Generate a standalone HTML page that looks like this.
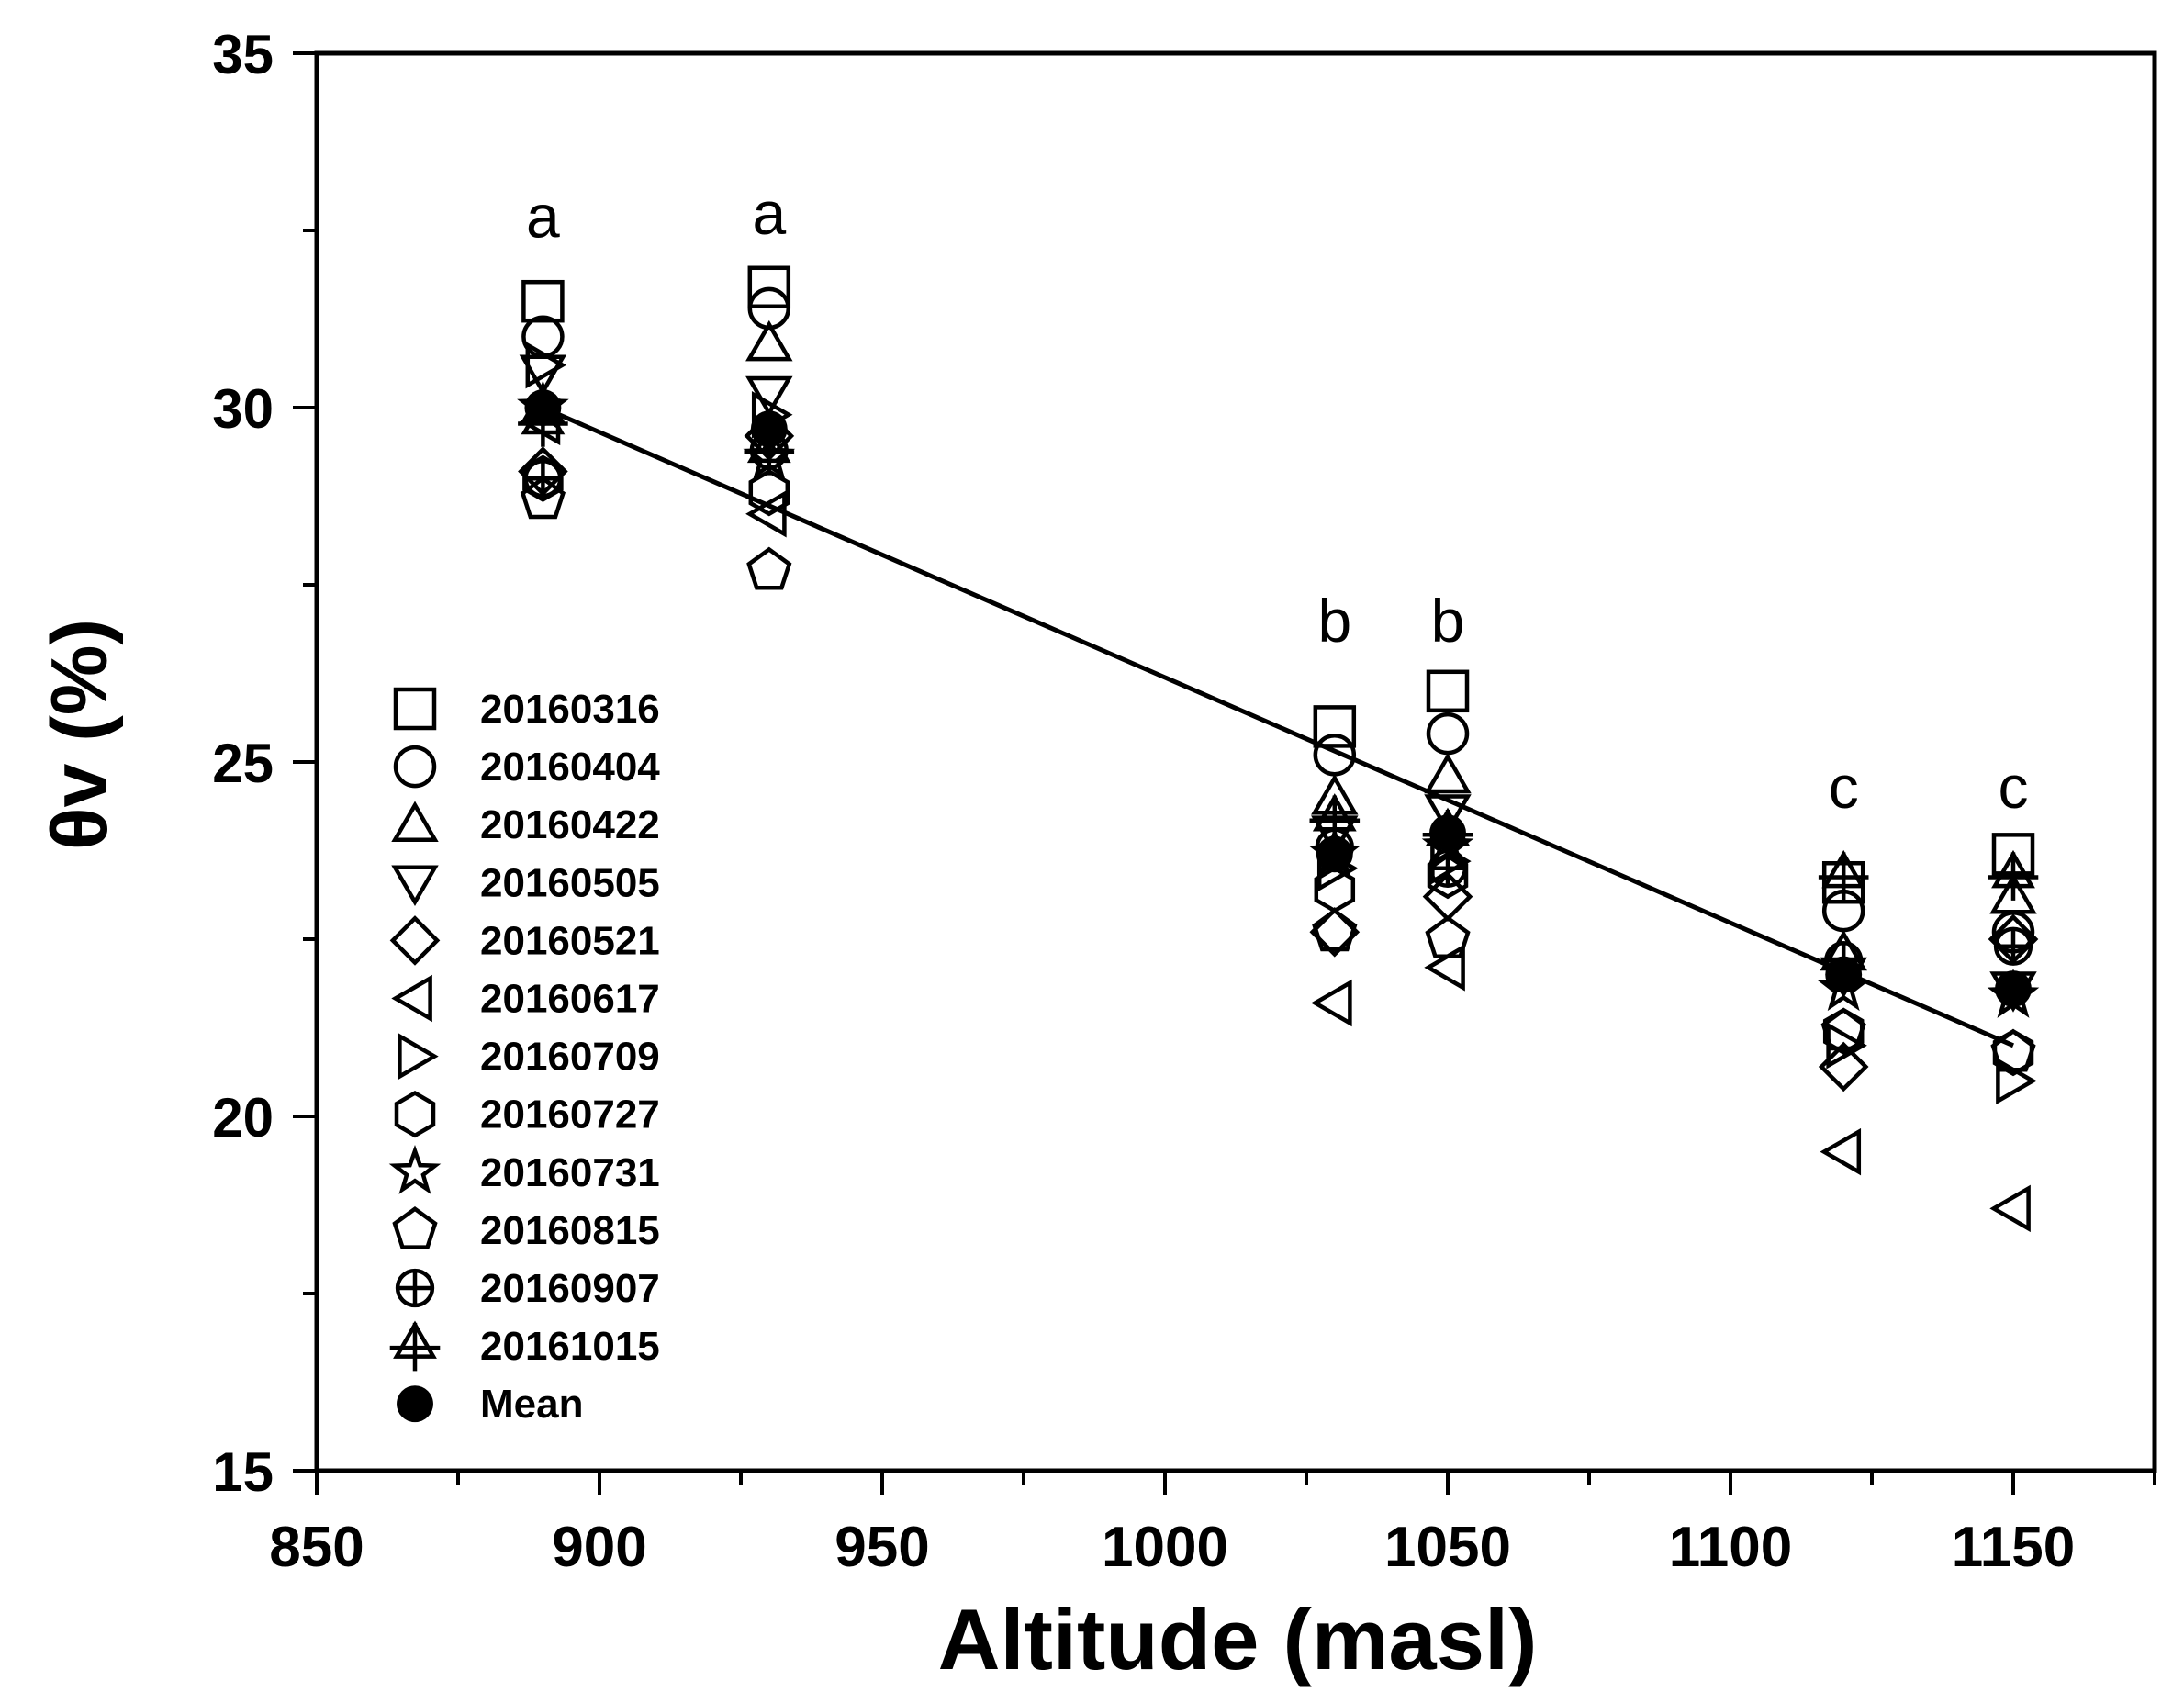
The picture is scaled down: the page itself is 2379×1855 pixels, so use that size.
<!DOCTYPE html>
<html><head><meta charset="utf-8"><style>
html,body{margin:0;padding:0;background:#fff;}
svg{display:block;}
text{font-family:"Liberation Sans",sans-serif;}
</style></head><body>
<svg id="chart" width="2379" height="1855" viewBox="0 0 2379 1855" xmlns="http://www.w3.org/2000/svg">
<g id="axes"></g><g id="marks"></g><g id="legend"></g>
</svg>
<script>
const altitudes = [890, 930, 1030, 1050, 1120, 1150];
const seriesNames = ["20160316","20160404","20160422","20160505","20160521","20160617","20160709","20160727","20160731","20160815","20160907","20161015","Mean"];
const seriesShapes = ["square","circle","up","down","diamond","left","right","hexagon","star","pentagon","circleplus","startri","mean"];
const s20160316 = [31.5, 31.7, 25.5, 26.0, 23.3, 23.7];
const s20160404 = [31.0, 31.4, 25.1, 25.4, 22.9, 22.6];
const s20160422 = [30.0, 30.9, 24.5, 24.8, 22.3, 23.1];
const s20160505 = [30.5, 30.2, 24.0, 24.3, 22.0, 21.8];
const s20160521 = [29.1, 29.6, 22.6, 23.1, 20.7, 22.5];
const s20160617 = [29.8, 28.5, 21.6, 22.1, 19.5, 18.7];
const s20160709 = [30.6, 29.9, 23.5, 23.6, 21.0, 20.5];
const s20160727 = [29.0, 28.8, 23.2, 23.4, 21.2, 20.9];
const s20160731 = [30.0, 29.3, 23.7, 23.8, 21.8, 21.7];
const s20160815 = [28.7, 27.7, 22.6, 22.5, 21.2, 20.9];
const s20160907 = [29.0, 29.4, 23.8, 23.5, 22.2, 22.4];
const s20161015 = [29.8, 29.4, 24.2, 24.0, 23.4, 23.4];
const sMean = [30.0, 29.7, 23.7, 24.0, 22.0, 21.8];
const fitStart = [890, 30.0];
const fitEnd = [1150, 21.0];
const letterLabels = ["a","a","b","b","c","c"];
const letterY = [32.4, 32.45, 26.7, 26.7, 24.35, 24.35];
const xTicks = [850, 900, 950, 1000, 1050, 1100, 1150];
const yTicks = [15, 20, 25, 30, 35];

const allSeries = [s20160316,s20160404,s20160422,s20160505,s20160521,s20160617,s20160709,s20160727,s20160731,s20160815,s20160907,s20161015,sMean];
const NS = "http://www.w3.org/2000/svg";
const L=345, R=2347, T=58, B=1602;
function xs(v){return L + (v-850)*(R-L)/(1175-850);}
function ys(v){return B - (v-15)*(B-T)/(35-15);}
function mk(tag, attrs, parent){const e=document.createElementNS(NS,tag);for(const k in attrs)e.setAttribute(k,attrs[k]);parent.appendChild(e);return e;}
const axes=document.getElementById('axes'), marks=document.getElementById('marks'), legend=document.getElementById('legend');

let fr=mk('rect',{x:L,y:T,width:R-L,height:B-T,fill:'none',stroke:'#000','stroke-width':5},axes);


for(let v=850; v<=1175; v+=25){
  const major = xTicks.includes(v);
  const t=mk('line',{x1:xs(v),x2:xs(v),y1:B,y2:B+(major?26:15),stroke:'#000','stroke-width':4},axes);
  
  
}
xTicks.forEach(v=>{
  const t=mk('text',{x:xs(v),y:1706,'font-size':62,'font-weight':'bold','text-anchor':'middle'},axes);
  t.textContent=v;
  
  
});
for(let v=15; v<=35; v+=2.5){
  const major = yTicks.includes(v);
  const t=mk('line',{x1:L-(major?26:15),x2:L,y1:ys(v),y2:ys(v),stroke:'#000','stroke-width':4},axes);
  
  
}
yTicks.forEach(v=>{
  const t=mk('text',{x:298,y:ys(v)+22,'font-size':60,'font-weight':'bold','text-anchor':'end'},axes);
  t.textContent=v;
  
  
});
let xt=mk('text',{x:1348,y:1818,'font-size':94,'font-weight':'bold','text-anchor':'middle'},axes);
xt.textContent='Altitude (masl)';


let yt=mk('text',{x:0,y:0,'font-size':86,'font-weight':'bold','text-anchor':'middle',transform:'translate(116,800) rotate(-90)'},axes);
yt.textContent='θv (%)';



let fl=mk('line',{x1:xs(fitStart[0]),y1:ys(fitStart[1]),x2:xs(fitEnd[0]),y2:ys(fitEnd[1]),stroke:'#000','stroke-width':5},marks);



function shape(kind,cx,cy,g){
  const r=21, sw=4.5, st={fill:'none',stroke:'#000','stroke-width':sw};
  const poly=(pts)=>mk('polygon',Object.assign({points:pts.map(p=>(cx+p[0])+','+(cy+p[1])).join(' ')},st),g);
  const reg=(n,rot,rr)=>{const p=[];for(let i=0;i<n;i++){const a=rot+i*2*Math.PI/n;p.push([rr*Math.cos(a),rr*Math.sin(a)]);}return p;};
  switch(kind){
    case 'square': mk('rect',Object.assign({x:cx-r,y:cy-r,width:2*r,height:2*r},st),g);break;
    case 'circle': mk('circle',Object.assign({cx:cx,cy:cy,r:r},st),g);break;
    case 'up': poly(reg(3,-Math.PI/2,r*1.2).map(p=>[p[0],p[1]+4]));break;
    case 'down': poly(reg(3,Math.PI/2,r*1.2).map(p=>[p[0],p[1]-4]));break;
    case 'left': poly(reg(3,Math.PI,r*1.2).map(p=>[p[0]+4,p[1]]));break;
    case 'right': poly(reg(3,0,r*1.2).map(p=>[p[0]-4,p[1]]));break;
    case 'diamond': poly(reg(4,0,r*1.15));break;
    case 'hexagon': poly(reg(6,-Math.PI/2,r*1.1));break;
    case 'pentagon': poly(reg(5,-Math.PI/2,r*1.1));break;
    case 'star': {const p=[];for(let i=0;i<10;i++){const a=-Math.PI/2+i*Math.PI/5;const rr=i%2?r*0.45:r*1.1;p.push([rr*Math.cos(a),rr*Math.sin(a)]);}poly(p);break;}
    case 'circleplus': mk('circle',Object.assign({cx:cx,cy:cy,r:r*0.9},st),g);mk('line',Object.assign({x1:cx-r*0.9,x2:cx+r*0.9,y1:cy,y2:cy},st),g);mk('line',Object.assign({x1:cx,x2:cx,y1:cy-r*0.9,y2:cy+r*0.9},st),g);break;
    case 'startri': poly(reg(3,-Math.PI/2,r*1.1));mk('line',Object.assign({x1:cx-r*1.3,x2:cx+r*1.3,y1:cy+2,y2:cy+2},st),g);mk('line',Object.assign({x1:cx,x2:cx,y1:cy-r*1.2,y2:cy+r*1.3},st),g);break;
    case 'mean': mk('circle',{cx:cx,cy:cy,r:r*0.95,fill:'#000'},g);break;
  }
}
allSeries.forEach((arr,si)=>{
  arr.forEach((v,i)=>{
    const g=mk('g',{},marks);
    
    
    shape(seriesShapes[si],xs(altitudes[i]),ys(v),g);
  });
});
letterLabels.forEach((s,i)=>{
  const t=mk('text',{x:xs(altitudes[i]),y:ys(letterY[i]),'font-size':66,'text-anchor':'middle'},marks);
  t.textContent=s;
  
  
});
seriesNames.forEach((n,i)=>{
  const g=mk('g',{},legend);
  
  
  const y=772+63.1*i;
  shape(seriesShapes[i],452,y,g);
  const t=mk('text',{x:523,y:y+15,'font-size':44,'font-weight':'bold'},g);
  t.textContent=n;
});
</script>
</body></html>
